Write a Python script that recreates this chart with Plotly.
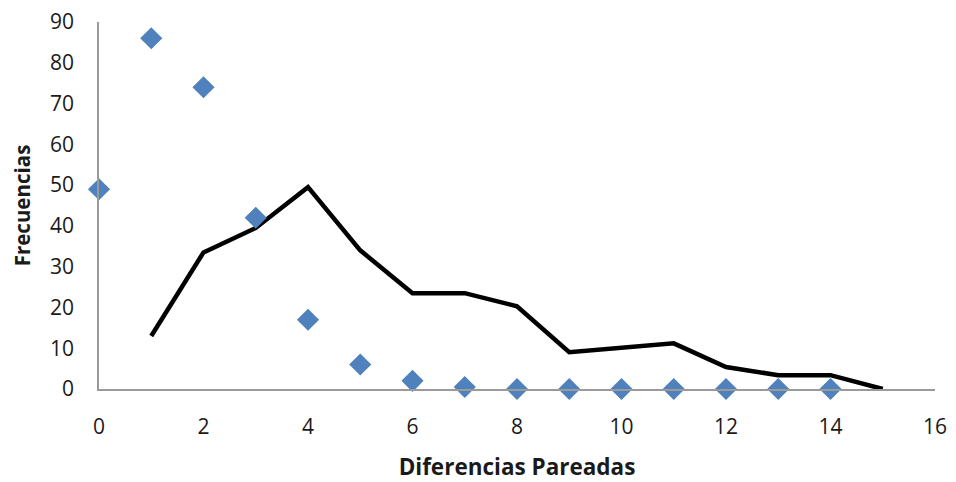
import plotly.graph_objects as go

# Data
x_scatter = [0, 1, 2, 3, 4, 5, 6, 7, 8, 9, 10, 11, 12, 13, 14]
y_scatter = [49, 86, 74, 42, 17, 6, 2, 0.5, 0, 0, 0, 0, 0, 0, 0]

x_line = [1, 2, 3, 4, 5, 6, 7, 8, 9, 10, 11, 12, 13, 14, 15]
y_line = [13, 33.5, 39.5, 49.5, 34, 23.5, 23.5, 20.3, 9, 10, 11.2, 5.4, 3.4, 3.4, 0]

x_ticks = [0, 2, 4, 6, 8, 10, 12, 14, 16]
y_ticks = [0, 10, 20, 30, 40, 50, 60, 70, 80, 90]

fig = go.Figure()
fig.add_trace(go.Scatter(
    x=x_line, y=y_line, mode="lines",
    line=dict(color="black", width=4.5),
    cliponaxis=False, showlegend=False,
))
fig.add_trace(go.Scatter(
    x=x_scatter, y=y_scatter, mode="markers",
    marker=dict(symbol="diamond", size=17, color="#4F81BD"),
    cliponaxis=False, showlegend=False,
))

font_family = "Open Sans, Liberation Sans, sans-serif"
fig.update_layout(
    width=948, height=474,
    margin=dict(l=91, r=21, t=14, b=93, autoexpand=False),
    paper_bgcolor="white", plot_bgcolor="white",
    font=dict(family=font_family, size=21, color="#1a1a1a"),
    xaxis=dict(
        range=[0, 16], tickvals=x_ticks, showgrid=False, zeroline=False,
        showline=True, linecolor="#9a9a9a", linewidth=1.5,
        ticks="", ticklabelstandoff=18, automargin=False,
        ticklabeloverflow="allow",
        title=dict(text="<b>Diferencias Pareadas</b>", standoff=20,
                   font=dict(size=22.5, color="#1a1a1a")),
    ),
    yaxis=dict(
        range=[0, 90], tickvals=y_ticks, showgrid=False, zeroline=False,
        showline=True, linecolor="#9a9a9a", linewidth=1.5,
        ticks="", ticklabelstandoff=19, automargin=False,
        ticklabeloverflow="allow",
        title=dict(text="<b>Frecuencias</b>", standoff=19,
                   font=dict(size=20.5, color="#1a1a1a")),
    ),
)

fig.write_html("out.html")
